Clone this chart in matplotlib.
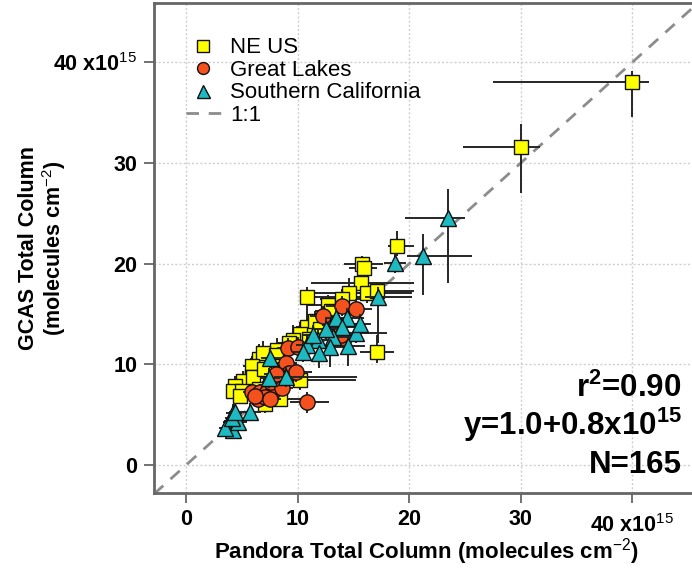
import matplotlib
matplotlib.use("Agg")
import matplotlib.pyplot as plt
import matplotlib.transforms as mtransforms
from matplotlib.lines import Line2D

plt.rcParams["font.family"] = ["Liberation Sans", "DejaVu Sans"]
plt.rcParams["mathtext.fontset"] = "custom"
plt.rcParams["mathtext.rm"] = "Liberation Sans"
plt.rcParams["mathtext.it"] = "Liberation Sans:italic"
plt.rcParams["mathtext.bf"] = "Liberation Sans:bold"

# ---- NE US (Pandora x, GCAS y, asymmetric uncertainties), units of 1e15 molecules cm^-2
ne_x = [40.0, 30.0, 18.9, 15.8, 15.9, 15.7, 16.2, 17.1, 14.6, 10.8, 12.7, 17.1, 10.8, 10.2,
        9.6, 9.2, 8.1, 7.1, 6.5, 6.9, 8.0, 5.9, 5.9, 5.5, 5.1, 4.4, 4.2, 5.0, 7.1, 8.4,
        10.2, 6.0, 7.0, 8.5, 13.0, 11.5, 14.0, 6.5, 7.5, 11.0, 12.0, 4.8]
ne_y = [38.0, 31.6, 21.7, 20.0, 19.6, 18.1, 17.1, 17.3, 17.1, 16.7, 15.9, 11.2, 13.7, 13.0,
        12.4, 12.1, 11.4, 10.8, 10.5, 11.1, 10.9, 9.8, 8.7, 8.1, 8.3, 7.8, 7.3, 7.3, 6.0, 6.5,
        8.4, 8.7, 9.5, 9.8, 15.3, 14.3, 16.5, 7.5, 7.8, 12.5, 13.5, 6.8]
ne_xlo = [12.5, 5.2, 0.8, 1.7, 1.3, 4.5, 2.5, 1.5, 3.5, 0.5, 2.0, 1.5, 1.0, 1.2,
          1.0, 1.0, 1.0, 0.8, 0.8, 1.0, 1.0, 0.8, 0.8, 0.8, 0.8, 0.6, 0.6, 0.8, 1.0, 1.0,
          1.5, 0.8, 0.8, 1.0, 1.5, 1.0, 2.0, 0.8, 0.8, 1.0, 1.0, 0.6]
ne_xhi = [1.5, 1.7, 1.5, 1.8, 1.2, 4.7, 4.0, 3.3, 2.0, 5.5, 2.5, 1.5, 2.0, 1.5,
          1.2, 1.0, 1.5, 1.2, 1.0, 1.0, 1.0, 1.0, 1.2, 1.0, 0.8, 0.8, 0.8, 0.8, 1.5, 2.0,
          5.0, 1.0, 1.0, 1.0, 2.0, 1.5, 2.0, 1.0, 1.0, 1.0, 1.5, 0.8]
ne_ylo = [3.4, 4.6, 0.9, 1.0, 1.2, 1.0, 1.0, 1.2, 1.0, 2.4, 1.5, 1.1, 1.5, 1.2,
          1.0, 1.2, 1.0, 1.0, 1.0, 1.2, 1.0, 1.0, 1.0, 0.8, 0.8, 0.8, 0.8, 0.8, 0.8, 0.8,
          1.0, 1.0, 1.0, 1.0, 1.0, 1.0, 1.0, 0.8, 0.8, 1.0, 1.0, 0.8]
ne_yhi = [1.1, 2.3, 1.5, 0.8, 1.0, 1.2, 1.0, 0.8, 1.5, 1.0, 1.0, 1.7, 1.5, 1.2,
          1.5, 1.0, 1.2, 1.0, 1.5, 1.2, 1.0, 1.0, 1.0, 1.0, 1.0, 1.0, 1.0, 1.0, 0.8, 1.0,
          1.0, 1.0, 1.0, 1.0, 1.0, 1.0, 1.0, 1.0, 1.0, 1.0, 1.0, 0.8]

# ---- Great Lakes
gl_x = [14.0, 15.2, 12.3, 14.1, 13.9, 9.1, 10.0, 8.9, 9.2, 9.8, 8.2, 5.9, 6.6, 7.2,
        7.8, 6.4, 7.1, 10.8, 7.6, 6.2, 7.5, 8.6, 8.0, 13.5]
gl_y = [15.8, 15.5, 14.8, 12.6, 12.9, 11.6, 11.7, 10.1, 9.1, 9.2, 8.9, 7.2, 7.2, 7.2,
        7.3, 6.5, 6.7, 6.2, 8.2, 6.8, 6.5, 7.6, 9.0, 14.0]
gl_xlo = [1.5, 1.5, 1.2, 1.0, 1.0, 1.0, 1.0, 1.0, 1.0, 1.0, 1.0, 0.8, 0.8, 0.8,
          0.8, 0.8, 0.8, 1.5, 0.8, 0.8, 0.8, 1.0, 1.0, 1.0]
gl_xhi = [1.5, 1.5, 1.5, 1.5, 1.0, 1.0, 1.5, 1.0, 1.5, 1.5, 1.0, 1.0, 1.0, 1.0,
          1.5, 1.0, 1.0, 2.0, 1.0, 1.0, 1.0, 1.0, 1.0, 1.0]
gl_ylo = [1.0, 1.0, 1.0, 1.0, 1.0, 1.0, 1.0, 1.0, 1.0, 1.0, 1.0, 0.8, 0.8, 0.8,
          0.8, 0.8, 0.8, 1.0, 0.8, 0.8, 0.8, 0.8, 1.0, 1.0]
gl_yhi = [1.0, 1.0, 1.0, 1.0, 1.0, 1.0, 1.0, 1.0, 1.0, 1.0, 1.0, 0.8, 0.8, 0.8,
          0.8, 0.8, 0.8, 1.0, 0.8, 0.8, 0.8, 0.8, 1.0, 1.0]

# ---- Southern California
sc_x = [23.5, 21.2, 18.7, 17.2, 13.4, 14.4, 14.0, 15.2, 13.2, 14.5, 12.9, 11.8, 10.8, 11.4,
        11.9, 10.5, 7.5, 7.4, 8.9, 5.7, 4.2, 3.9, 4.2, 3.5, 4.6, 4.1, 4.4, 12.5, 15.6]
sc_y = [24.5, 20.8, 20.1, 16.7, 14.6, 14.6, 13.7, 13.1, 12.7, 11.8, 11.7, 12.4, 11.9, 12.9,
        11.1, 11.2, 10.6, 8.6, 8.7, 5.3, 5.2, 4.3, 3.5, 3.7, 4.3, 4.7, 5.3, 13.5, 14.0]
sc_xlo = [3.9, 1.4, 1.0, 1.2, 1.0, 1.0, 1.0, 1.0, 1.0, 1.0, 1.0, 1.0, 1.0, 1.0,
          1.0, 1.0, 0.8, 0.8, 1.0, 0.8, 0.6, 0.6, 0.6, 0.6, 0.6, 0.6, 0.6, 1.0, 1.0]
sc_xhi = [1.5, 4.4, 1.0, 3.0, 1.5, 1.5, 1.5, 2.8, 1.5, 1.5, 1.5, 1.0, 1.0, 1.0,
          1.0, 1.0, 1.0, 1.0, 6.4, 1.0, 0.8, 0.8, 0.8, 0.8, 0.8, 0.8, 0.8, 1.0, 1.0]
sc_ylo = [6.4, 3.9, 1.0, 4.6, 1.0, 1.0, 1.0, 1.0, 1.0, 2.0, 2.0, 1.5, 1.0, 1.0,
          1.5, 1.0, 1.0, 1.0, 1.0, 0.8, 0.8, 0.8, 0.8, 0.8, 0.8, 0.8, 0.8, 1.0, 1.0]
sc_yhi = [2.9, 2.1, 1.0, 1.0, 1.0, 1.0, 1.0, 1.0, 1.0, 1.0, 1.0, 1.0, 1.0, 1.0,
          1.0, 1.0, 1.0, 1.0, 1.0, 0.8, 0.8, 0.8, 0.8, 0.8, 0.8, 0.8, 0.8, 1.0, 1.0]

tick_values = [0, 10, 20, 30, 40]
tick_labels = ["0", "10", "20", "30", r"40 x10$^{15}$"]
stats_lines = [r"r$^{\mathbf{2}}$=0.90", r"y=1.0+0.8x10$^{\mathbf{15}}$", "N=165"]

fig = plt.figure(figsize=(6.92, 5.69), dpi=100)
ax = fig.add_axes([154 / 692, 76 / 569, 544 / 692, 490 / 569])
ax.set_xlim(-2.9, 45.9)
ax.set_ylim(-2.8, 45.9)

frame = "#666666"
for side in ("left", "bottom", "top", "right"):
    ax.spines[side].set_color(frame)
    ax.spines[side].set_linewidth(2)

ax.grid(True, color="#cfcfcf", linestyle=(0, (1.5, 1.5)), linewidth=1)
ax.set_axisbelow(True)

ax.set_xticks(tick_values)
ax.set_xticklabels(tick_labels)
ax.set_yticks(tick_values)
ax.set_yticklabels(tick_labels)
ax.tick_params(direction="out", length=7.5, width=1.3, color=frame, labelsize=15.5)
ax.tick_params(axis="y", pad=4.5)
ax.tick_params(axis="x", pad=4)
for lab in ax.get_xticklabels() + ax.get_yticklabels():
    lab.set_fontweight("bold")

# the scaled last x label sits a little lower than the plain numbers
last_x = ax.get_xticklabels()[-1]
last_x.set_transform(last_x.get_transform() +
                     mtransforms.ScaledTranslation(0, -0.05, fig.dpi_scale_trans))

# 1:1 reference line
ax.plot([-2.9, 46], [-2.9, 46], color="#8c8c8c", lw=2, linestyle=(0, (4.5, 3.5)), zorder=1)

series = [
    (ne_x, ne_y, ne_xlo, ne_xhi, ne_ylo, ne_yhi, "s", 10.5, "#FFFF00", "NE US"),
    (gl_x, gl_y, gl_xlo, gl_xhi, gl_ylo, gl_yhi, "o", 11, "#F4511E", "Great Lakes"),
    (sc_x, sc_y, sc_xlo, sc_xhi, sc_ylo, sc_yhi, "^", 12, "#1DBAC2", "Southern California"),
]
handles = []
for i, (x, y, xlo, xhi, ylo, yhi, mk, ms, col, name) in enumerate(series):
    ax.errorbar(x, y, xerr=[xlo, xhi], yerr=[ylo, yhi], fmt="none",
                ecolor="#262626", elinewidth=1.4, capsize=0, zorder=2 + 2 * i)
    ax.plot(x, y, linestyle="none", marker=mk, markersize=ms, markerfacecolor=col,
            markeredgecolor="#111111", markeredgewidth=1.0, zorder=3 + 2 * i)
    handles.append(Line2D([], [], linestyle="none", marker=mk, markersize=ms * 0.78,
                          markerfacecolor=col, markeredgecolor="#111111",
                          markeredgewidth=1.0, label=name))
handles.append(Line2D([], [], color="#8c8c8c", lw=2, linestyle=(0, (4.5, 3.5)), label="1:1"))

leg = ax.legend(handles=handles, loc="upper left", bbox_to_anchor=(0.058, 0.93),
                frameon=False, fontsize=16, labelspacing=0.07, handlelength=1.6,
                handletextpad=0.4, borderpad=0, borderaxespad=0)

ys = [0.196, 0.118, 0.041]
for txt, yy in zip(stats_lines, ys):
    ax.text(0.97, yy, txt, transform=ax.transAxes, ha="right", va="baseline",
            fontsize=22.5, fontweight="bold", zorder=10)

ax.set_xlabel(r"Pandora Total Column (molecules cm$^{-2}$)", fontsize=16,
              fontweight="bold")
ax.xaxis.set_label_coords(0.5, -0.088)
ax.set_ylabel("GCAS Total Column\n" + r"(molecules cm$^{-2}$)", fontsize=15.5,
              fontweight="bold", linespacing=1.05)
ax.yaxis.set_label_coords(-0.158, 0.5)

fig.savefig("out.png", dpi=100)
